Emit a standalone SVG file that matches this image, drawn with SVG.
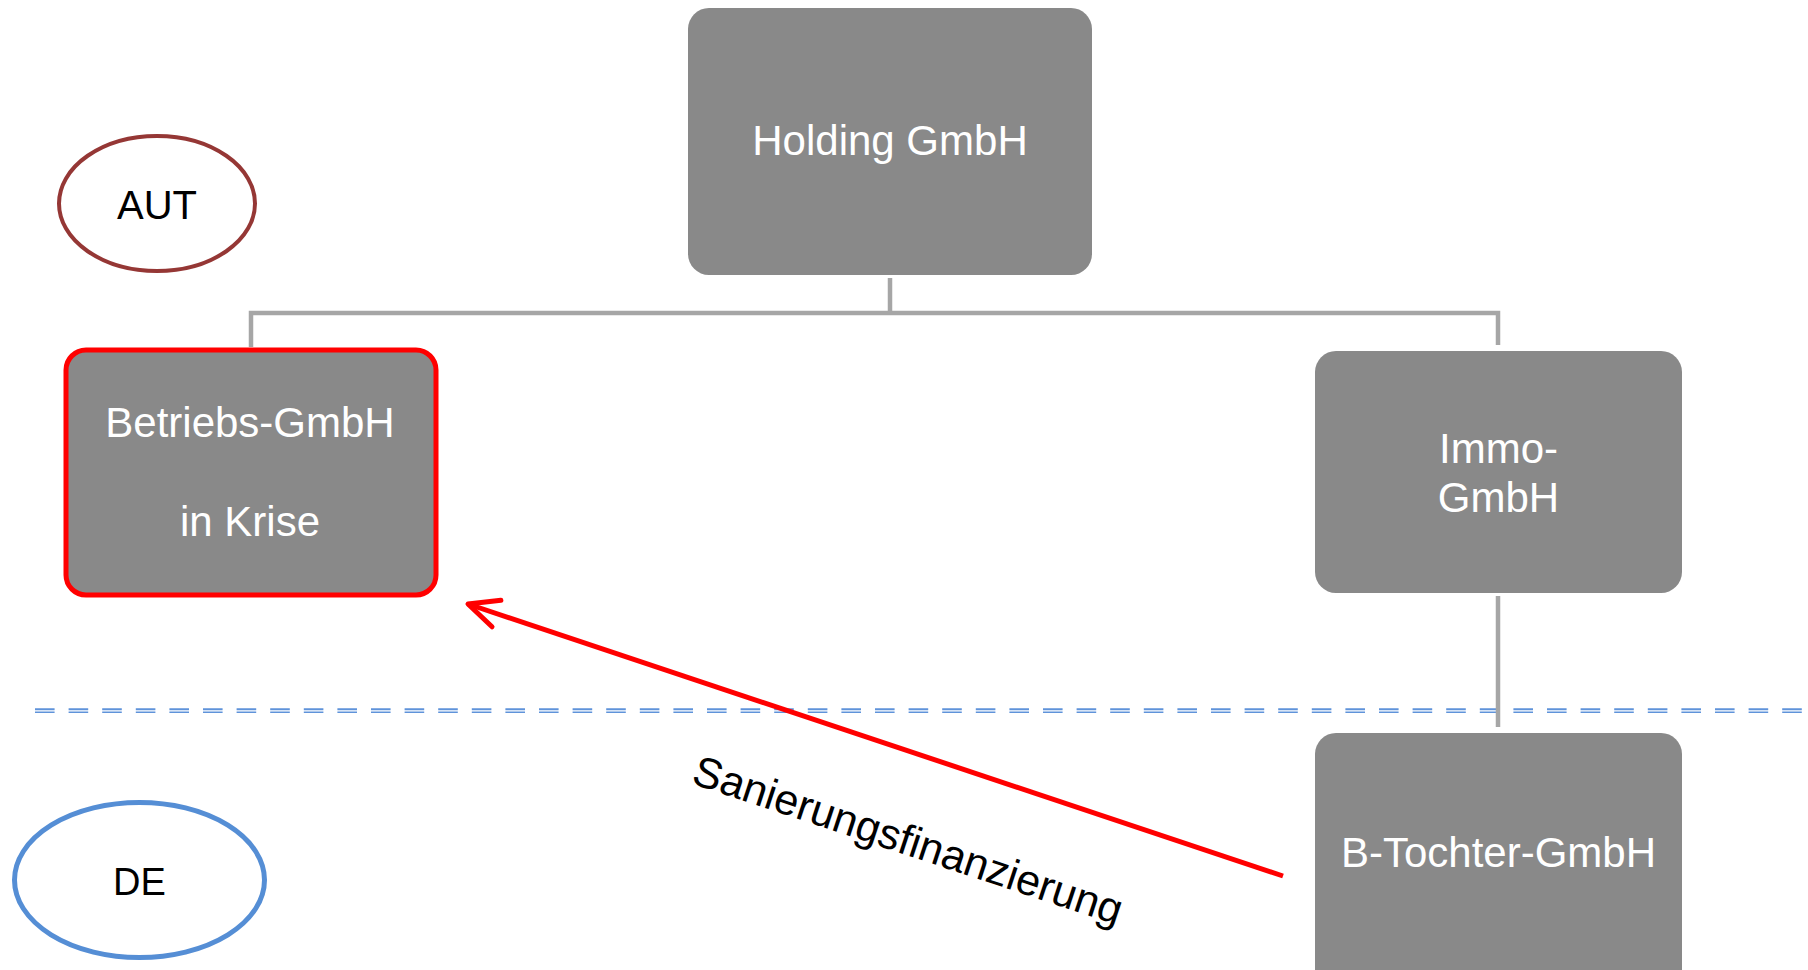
<svg xmlns="http://www.w3.org/2000/svg" width="1808" height="970" viewBox="0 0 1808 970">
  <style>
    .box { fill: #898989; }
    .lbl { font-family: "Liberation Sans", Arial, sans-serif; font-size: 42px; fill: #ffffff; text-anchor: middle; }
    .tree { stroke: #a6a6a6; stroke-width: 4.5; fill: none; }
    .ctry { font-family: "Liberation Sans", Arial, sans-serif; fill: #000000; text-anchor: middle; }
    .border { stroke: #5f93da; fill: none; stroke-dasharray: 19.6 14; }
  </style>
  <defs>
    <marker id="openArrow" markerUnits="userSpaceOnUse" viewBox="-40 -20 50 40" markerWidth="50" markerHeight="40" refX="0" refY="0" orient="auto">
      <path d="M-30,-14 L0,0 L-30,14" fill="none" stroke="#ff0000" stroke-width="5" stroke-linecap="round" stroke-linejoin="round"/>
    </marker>
  </defs>
  <rect width="1808" height="970" fill="#ffffff"/>

  <g id="border-line">
    <line class="border" x1="35" y1="709.3" x2="1804" y2="709.3" stroke-width="2"/>
    <line class="border" x1="35" y1="712.2" x2="1804" y2="712.2" stroke-width="1.6"/>
  </g>

  <g id="connectors">
    <path class="tree" d="M890,278 V313 M251,347 V313 H1498 V345"/>
    <path class="tree" d="M1498,596 V727"/>
    <line x1="1283" y1="876" x2="468" y2="604" stroke="#ff0000" stroke-width="5" marker-end="url(#openArrow)"/>
    <text transform="translate(690,783) rotate(18.4)" font-family="'Liberation Sans', Arial, sans-serif" font-size="43" fill="#000000" textLength="450">Sanierungsfinanzierung</text>
  </g>

  <g id="aut">
    <ellipse cx="157" cy="203.5" rx="98" ry="67.5" fill="#ffffff" stroke="#953735" stroke-width="4"/>
    <text class="ctry" x="157" y="219" font-size="40">AUT</text>
  </g>

  <g id="de">
    <ellipse cx="139.5" cy="880" rx="125" ry="77.5" fill="#ffffff" stroke="#558ed5" stroke-width="5"/>
    <text class="ctry" x="139.5" y="895" font-size="38">DE</text>
  </g>

  <g id="holding">
    <rect class="box" x="688" y="8" width="404" height="267" rx="21"/>
    <text class="lbl" x="890" y="155">Holding GmbH</text>
  </g>

  <g id="betriebs">
    <rect class="box" x="66" y="350" width="370" height="245" rx="20" stroke="#ff0000" stroke-width="5"/>
    <text class="lbl" x="250" y="437">Betriebs-GmbH</text>
    <text class="lbl" x="250" y="536">in Krise</text>
  </g>

  <g id="immo">
    <rect class="box" x="1315" y="351" width="367" height="242" rx="21"/>
    <text class="lbl" x="1498.5" y="463">Immo-</text>
    <text class="lbl" x="1498.5" y="512">GmbH</text>
  </g>

  <g id="btochter">
    <rect class="box" x="1315" y="733" width="367" height="262" rx="21"/>
    <text class="lbl" x="1498.5" y="867">B-Tochter-GmbH</text>
  </g>
</svg>
